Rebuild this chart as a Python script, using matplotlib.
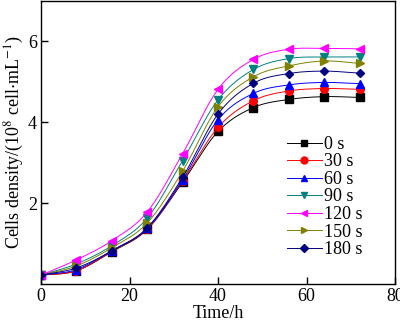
import numpy as np
import matplotlib.pyplot as plt

plt.rcParams['font.family'] = ['Liberation Serif', 'DejaVu Serif']
plt.rcParams['mathtext.fontset'] = 'stix'

# sampling times (h) and cell density (10^8 cell/mL) per treatment time
hours = [0, 8, 16, 24, 32, 40, 48, 56, 64, 72]
labels = ['0 s', '30 s', '60 s', '90 s', '120 s', '150 s', '180 s']
d0 = [0.22, 0.33, 0.80, 1.35, 2.52, 3.77, 4.36, 4.56, 4.63, 4.61]
d30 = [0.22, 0.33, 0.81, 1.36, 2.55, 3.87, 4.53, 4.77, 4.83, 4.81]
d60 = [0.22, 0.36, 0.83, 1.38, 2.58, 4.06, 4.71, 4.92, 4.98, 4.95]
d90 = [0.22, 0.50, 0.95, 1.63, 3.05, 4.55, 5.30, 5.57, 5.61, 5.61]
d120 = [0.22, 0.60, 1.07, 1.78, 3.22, 4.81, 5.55, 5.80, 5.82, 5.81]
d150 = [0.22, 0.45, 0.90, 1.51, 2.79, 4.38, 5.12, 5.39, 5.51, 5.45]
d180 = [0.22, 0.40, 0.82, 1.39, 2.64, 4.20, 4.96, 5.20, 5.26, 5.21]

series = [d0, d30, d60, d90, d120, d150, d180]
colors = ['black', 'red', 'blue', '#008080', 'magenta', '#808000', '#000080']
markers = ['s', 'o', '^', 'v', '<', '>', 'D']


def smooth(x, y, n=20):
    # Catmull-Rom curve through the measured points
    x = np.asarray(x, float)
    y = np.asarray(y, float)
    xs, ys = [], []
    for i in range(len(x) - 1):
        h = x[i + 1] - x[i]
        m0 = (y[i + 1] - y[i - 1]) / (x[i + 1] - x[i - 1]) if i > 0 else (y[1] - y[0]) / h
        m1 = (y[i + 2] - y[i]) / (x[i + 2] - x[i]) if i < len(x) - 2 else (y[-1] - y[-2]) / h
        t = np.linspace(0, 1, n, endpoint=False)
        h00 = 2 * t**3 - 3 * t**2 + 1
        h10 = t**3 - 2 * t**2 + t
        h01 = -2 * t**3 + 3 * t**2
        h11 = t**3 - t**2
        xs.append(x[i] + t * h)
        ys.append(h00 * y[i] + h10 * h * m0 + h01 * y[i + 1] + h11 * h * m1)
    xs.append([x[-1]])
    ys.append([y[-1]])
    return np.concatenate(xs), np.concatenate(ys)


fig = plt.figure(figsize=(4, 3.24), dpi=100)
ax = fig.add_axes([0.1025, 0.123, 0.885, 0.875])

for y, c, m, lab in zip(series, colors, markers, labels):
    ms = 4.5 if m == 'D' else 5.5
    sx, sy = smooth(hours, y)
    ax.plot(sx, sy, color=c, lw=0.7)
    ax.plot(hours, y, ls='none', marker=m, color=c, ms=ms)
    ax.plot([], [], color=c, lw=0.7, marker=m, ms=ms - 0.5, label=lab)

ax.set_xlim(0, 80)
ax.set_ylim(0, 7)
ax.set_xticks([0, 20, 40, 60, 80])
ax.set_yticks([2, 4, 6])
ax.tick_params(direction='in', labelsize=13, length=5, width=1, pad=3)
ax.set_xlabel('Time/h', fontsize=13, labelpad=0)
ax.set_ylabel('Cells density/(10$^8$ cell$\\cdot$mL$^{-1}$)', fontsize=13, labelpad=1)
for s in ax.spines.values():
    s.set_linewidth(1)

ax.legend(loc='upper left', bbox_to_anchor=(0.67, 0.555), frameon=False, fontsize=13,
          handlelength=1.9, handletextpad=0.15, labelspacing=0.03, borderpad=0)

fig.savefig('out.png', dpi=100)
